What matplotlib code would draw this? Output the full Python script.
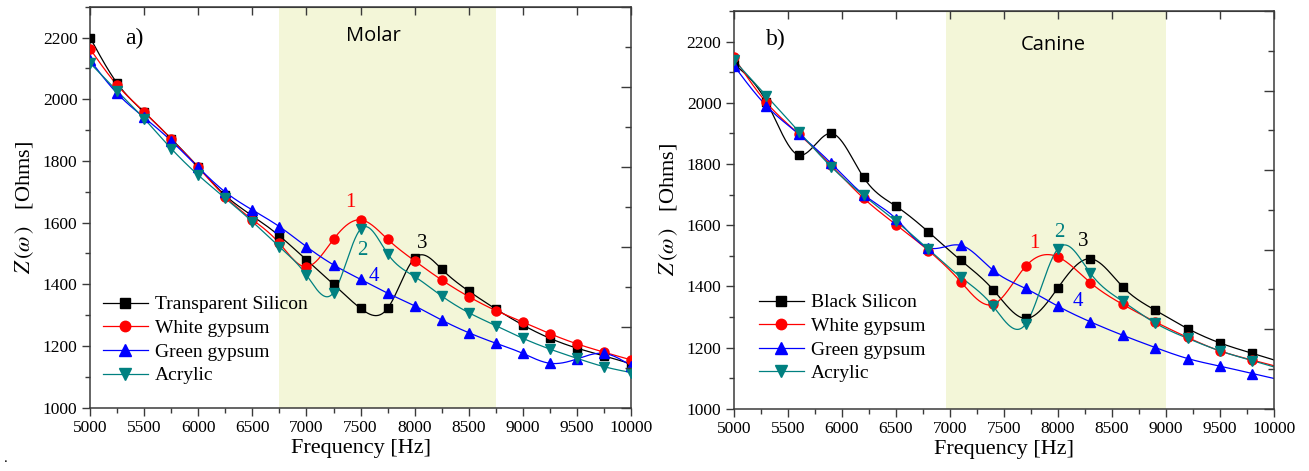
import numpy as np
import matplotlib
matplotlib.use("Agg")
import matplotlib.pyplot as plt
from matplotlib.lines import Line2D
from matplotlib.ticker import MultipleLocator

plt.rcParams['font.family'] = ['Liberation Serif', 'DejaVu Serif']
plt.rcParams['mathtext.fontset'] = 'stix'

# ---------------- data: panel a) Molar ----------------
freq_a = [5000, 5250, 5500, 5750, 6000, 6250, 6500, 6750, 7000, 7250, 7500,
          7750, 8000, 8250, 8500, 8750, 9000, 9250, 9500, 9750, 10000]
transparent_silicon = [2200, 2052, 1958, 1872, 1780, 1688, 1622, 1557, 1479, 1400, 1322,
                       1322, 1485, 1449, 1378, 1320, 1268, 1225, 1193, 1168, 1142]
white_gypsum_a = [2163, 2046, 1959, 1871, 1779, 1684, 1610, 1533, 1457, 1546, 1609,
                  1546, 1476, 1414, 1360, 1315, 1278, 1240, 1207, 1180, 1155]
green_gypsum_a = [2127, 2019, 1941, 1865, 1779, 1699, 1641, 1587, 1522, 1463, 1416,
                  1371, 1330, 1284, 1243, 1209, 1176, 1144, 1158, 1176, 1136]
acrylic_a = [2117, 2027, 1937, 1840, 1754, 1679, 1603, 1522, 1430, 1373, 1579,
             1499, 1425, 1362, 1308, 1266, 1225, 1190, 1160, 1133, 1114]

# ---------------- data: panel b) Canine ----------------
freq_b = [5000, 5300, 5600, 5900, 6200, 6500, 6800, 7100, 7400, 7700, 8000,
          8300, 8600, 8900, 9200, 9500, 9800]
black_silicon = [2126, 2004, 1829, 1900, 1756, 1662, 1578, 1485, 1389, 1295, 1395,
                 1490, 1398, 1322, 1262, 1215, 1181]
white_gypsum_b = [2148, 2001, 1898, 1795, 1688, 1602, 1517, 1415, 1341, 1465, 1496,
                  1412, 1341, 1284, 1233, 1189, 1159]
green_gypsum_b = [2121, 1990, 1898, 1802, 1700, 1621, 1526, 1534, 1452, 1393, 1335,
                  1284, 1240, 1200, 1164, 1139, 1115]
acrylic_b = [2139, 2023, 1906, 1791, 1697, 1613, 1521, 1430, 1335, 1276, 1523,
             1443, 1351, 1280, 1230, 1189, 1157]

labels_a = ["Transparent Silicon", "White gypsum", "Green gypsum", "Acrylic"]
labels_b = ["Black Silicon", "White gypsum", "Green gypsum", "Acrylic"]
colors = ["#000000", "#FF0000", "#0000FF", "#008080"]
markers = ["s", "o", "^", "v"]
msizes = [5.5, 6.5, 7, 7]

band_a = (6750, 8750)
band_b = (6960, 9000)
band_color = "#F3F6D8"


def natural_spline(x, y, xs):
    """Smooth connecting line (natural cubic spline) through the data points."""
    x = np.asarray(x, float)
    y = np.asarray(y, float)
    n = len(x)
    h = np.diff(x)
    A = np.zeros((n, n))
    r = np.zeros(n)
    A[0, 0] = A[-1, -1] = 1.0
    for i in range(1, n - 1):
        A[i, i - 1] = h[i - 1]
        A[i, i] = 2 * (h[i - 1] + h[i])
        A[i, i + 1] = h[i]
        r[i] = 3 * ((y[i + 1] - y[i]) / h[i] - (y[i] - y[i - 1]) / h[i - 1])
    c = np.linalg.solve(A, r)
    b = (y[1:] - y[:-1]) / h - h * (2 * c[:-1] + c[1:]) / 3
    d = (c[1:] - c[:-1]) / (3 * h)
    idx = np.clip(np.searchsorted(x, xs, side='right') - 1, 0, n - 2)
    t = xs - x[idx]
    return y[idx] + b[idx] * t + c[idx] * t ** 2 + d[idx] * t ** 3


fig = plt.figure(figsize=(13.09, 4.71), dpi=100)
ax_a = fig.add_axes([0.0688, 0.1344, 0.4133, 0.8514])
ax_b = fig.add_axes([0.5607, 0.1323, 0.4125, 0.8444])

spine_color = "#3a3a3a"


def style_axes(ax, band, series, freq, labels, region, tag, region_xy, tag_xy,
               annots, leg_anchor):
    ax.set_xlim(5000, 10000)
    ax.set_ylim(1000, 2300)
    ax.axvspan(band[0], band[1], color=band_color, zorder=0, lw=0)
    xs = np.linspace(freq[0], 10000, 2000)
    for vals, col, mk, ms in zip(series, colors, markers, msizes):
        ys = natural_spline(freq, vals, xs)
        ax.plot(xs, ys, color=col, lw=0.9, zorder=2)
        ax.plot(freq, vals, ls='none', marker=mk, ms=ms, color=col,
                markeredgecolor=col, zorder=3)
    ax.xaxis.set_major_locator(MultipleLocator(500))
    ax.xaxis.set_minor_locator(MultipleLocator(250))
    ax.yaxis.set_major_locator(MultipleLocator(200))
    ax.yaxis.set_minor_locator(MultipleLocator(100))
    ax.tick_params(which='major', direction='out', length=6, width=1,
                   color=spine_color, labelsize=12.5, pad=3)
    ax.tick_params(which='minor', direction='out', length=3.5, width=1,
                   color=spine_color)
    for s in ax.spines.values():
        s.set_color(spine_color)
        s.set_linewidth(1.1)
    ax.set_xlabel("Frequency [Hz]", fontsize=16, labelpad=2)
    ax.set_ylabel(r"$Z\,(\omega\,)$   [Ohms]", fontsize=16, labelpad=5)
    # top ticks (inward)
    sec = ax.secondary_xaxis('top')
    sec.set_xticks(np.arange(5000, 10001, 500))
    sec.tick_params(direction='in', length=6, width=1, color=spine_color,
                    labeltop=False)
    sec.spines['top'].set_color(spine_color)
    # right ticks (inward, independent scale)
    tw = ax.twinx()
    tw.set_ylim(10, 0)
    tw.yaxis.set_major_locator(MultipleLocator(2))
    tw.yaxis.set_minor_locator(MultipleLocator(1))
    tw.tick_params(which='major', direction='in', length=7, width=1,
                   color=spine_color, labelright=False)
    tw.tick_params(which='minor', direction='in', length=4, width=1,
                   color=spine_color)
    for s in tw.spines.values():
        s.set_visible(False)
    # texts
    ax.text(region_xy[0], region_xy[1], region, family='Open Sans',
            fontsize=14.5, ha='center', va='center')
    ax.text(tag_xy[0], tag_xy[1], tag, fontsize=17, ha='center', va='center')
    for (txt, x, y, col) in annots:
        ax.text(x, y, txt, color=col, fontsize=15, ha='center', va='center')
    handles = [Line2D([], [], color=c, lw=0.9, marker=m, ms=ms + 1,
                      markeredgecolor=c) for c, m, ms in zip(colors, markers, msizes)]
    ax.legend(handles, labels, loc='upper left', bbox_to_anchor=leg_anchor,
              frameon=False, fontsize=14, handlelength=2.3, handletextpad=0.38,
              labelspacing=0.31, borderpad=0, borderaxespad=0)


style_axes(ax_a, band_a,
           [transparent_silicon, white_gypsum_a, green_gypsum_a, acrylic_a],
           freq_a, labels_a, "Molar", "a)", (7620, 2206), (5410, 2196),
           [("1", 7407, 1665, colors[1]), ("2", 7515, 1511, colors[3]),
            ("3", 8070, 1533, colors[0]), ("4", 7623, 1425, colors[2])],
           (0.024, 0.279))

style_axes(ax_b, band_b,
           [black_silicon, white_gypsum_b, green_gypsum_b, acrylic_b],
           freq_b, labels_b, "Canine", "b)", (7954, 2189), (5390, 2208),
           [("1", 7781, 1539, colors[1]), ("2", 8012, 1577, colors[3]),
            ("3", 8234, 1545, colors[0]), ("4", 8188, 1349, colors[2])],
           (0.046, 0.289))

fig.text(0.003, 0.02, ".", fontsize=11)

fig.savefig("out.png", dpi=100)
